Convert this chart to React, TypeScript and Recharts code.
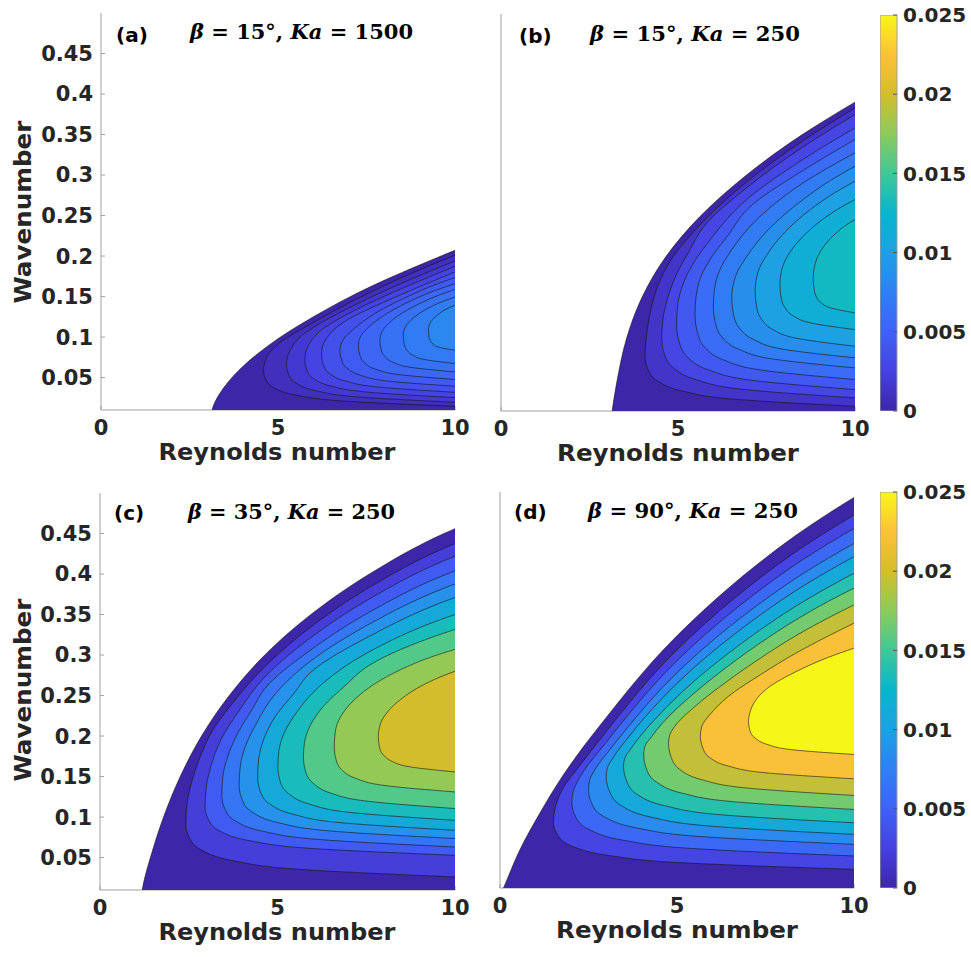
import React from 'react';
import { ScatterChart, Scatter, XAxis, YAxis, BarChart, Bar } from 'recharts';

// Growth-rate contours in the (Re, k) plane. Every line is a list of [Re, k]
// points running from its upper end on Re = 10, round the nose, down to its
// lower end on Re = 10. The first line of each panel is the neutral curve; it
// runs on down to k = 0 at the critical Reynolds number and closes below the axis.

const neutralA = [[10, 0.2071], [9, 0.189], [8, 0.17], [7, 0.149], [6, 0.125], [5, 0.098], [4.5, 0.082], [4, 0.0635], [3.6, 0.045], [3.35, 0.03], [3.2, 0.018], [3.13, 0.0085], [3.1, 0], [10, -0.002]];
const contoursA = [
  [[10, 0.2011], [9, 0.183], [8, 0.1635], [7, 0.142], [6, 0.118], [5, 0.091], [4.75, 0.08], [4.62, 0.068], [4.59, 0.059], [4.67, 0.0466], [4.91, 0.0368], [5.56, 0.0279], [6.75, 0.0213], [10, 0.0146]],
  [[10, 0.194], [9, 0.1759], [8, 0.1569], [7, 0.1359], [6, 0.1119], [5.62, 0.1], [5.38, 0.087], [5.27, 0.076], [5.24, 0.066], [5.31, 0.053], [5.53, 0.0427], [6.1, 0.0334], [7.14, 0.0265], [10, 0.0195]],
  [[10, 0.1874], [9, 0.1693], [8, 0.1503], [7, 0.1293], [6.15, 0.106], [5.9, 0.093], [5.79, 0.082], [5.76, 0.072], [5.82, 0.0589], [6.01, 0.0486], [6.52, 0.0393], [7.46, 0.0323], [10, 0.0253]],
  [[10, 0.1804], [9, 0.1623], [8, 0.1433], [7, 0.1223], [6.65, 0.112], [6.38, 0.099], [6.26, 0.089], [6.23, 0.078], [6.29, 0.0651], [6.46, 0.0549], [6.91, 0.0457], [7.74, 0.0387], [10, 0.0318]],
  [[10, 0.1735], [9.35, 0.1632], [8.54, 0.1475], [7.73, 0.1288], [7.14, 0.11], [6.85, 0.097], [6.75, 0.084], [6.8, 0.0715], [6.95, 0.0616], [7.34, 0.0527], [8.05, 0.046], [10, 0.0393]],
  [[10, 0.166], [9.45, 0.1577], [8.77, 0.1451], [8.09, 0.1295], [7.6, 0.1138], [7.35, 0.1021], [7.27, 0.09], [7.31, 0.0781], [7.43, 0.0688], [7.76, 0.0603], [8.36, 0.054], [10, 0.0476]],
  [[10, 0.1587], [9.58, 0.1523], [9.05, 0.1424], [8.52, 0.1299], [8.13, 0.117], [7.94, 0.1068], [7.88, 0.096], [7.91, 0.0851], [8.01, 0.0765], [8.26, 0.0687], [8.73, 0.0628], [10, 0.057]],
  [[10, 0.1495], [9.71, 0.145], [9.34, 0.1379], [8.98, 0.1287], [8.72, 0.1191], [8.58, 0.111], [8.54, 0.1022], [8.56, 0.0924], [8.63, 0.0847], [8.8, 0.0778], [9.12, 0.0725], [10, 0.0673]],
  [[10, 0.1393], [9.85, 0.1365], [9.66, 0.1322], [9.48, 0.1263], [9.34, 0.1201], [9.27, 0.1146], [9.25, 0.1084], [9.26, 0.1015], [9.3, 0.096], [9.39, 0.0911], [9.55, 0.0874], [10, 0.0837]],
];
const levelsA = [0, 0.0009, 0.0018, 0.0027, 0.0036, 0.0045, 0.0054, 0.0063, 0.0072, 0.0081];

const neutralB = [[10, 0.3912], [8.47, 0.35], [6.9, 0.3], [5.62, 0.25], [4.65, 0.2], [3.98, 0.15], [3.55, 0.1], [3.29, 0.05], [3.19, 0.025], [3.14, 0.01], [3.1, 0], [10, -0.002]];
const contoursB = [
  [[10, 0.3841], [8.52, 0.3433], [6.97, 0.2938], [5.72, 0.2441], [4.77, 0.1943], [4.45, 0.167], [4.2, 0.128], [4.1, 0.1], [4.07, 0.0779], [4.16, 0.0605], [4.43, 0.0468], [5.14, 0.0344], [6.44, 0.0251], [10, 0.0158]],
  [[10, 0.3759], [8.52, 0.3356], [6.97, 0.2866], [5.72, 0.2373], [5.3, 0.206], [4.95, 0.178], [4.7, 0.148], [4.57, 0.122], [4.54, 0.1005], [4.62, 0.0797], [4.87, 0.0633], [5.52, 0.0485], [6.72, 0.0373], [10, 0.0262]],
  [[10, 0.3595], [8.52, 0.3202], [6.97, 0.2721], [5.85, 0.218], [5.4, 0.19], [5.12, 0.164], [4.99, 0.14], [4.96, 0.117], [5.04, 0.0944], [5.26, 0.0767], [5.87, 0.0606], [6.98, 0.0485], [10, 0.0364]],
  [[10, 0.3451], [8.52, 0.3066], [6.97, 0.2595], [6.4, 0.226], [5.95, 0.2], [5.64, 0.175], [5.51, 0.151], [5.48, 0.1293], [5.55, 0.1068], [5.75, 0.089], [6.29, 0.0729], [7.29, 0.0609], [10, 0.0488]],
  [[10, 0.3286], [8.52, 0.2911], [7.0, 0.236], [6.5, 0.208], [6.17, 0.183], [6.03, 0.16], [6.0, 0.1396], [6.06, 0.1182], [6.24, 0.1014], [6.72, 0.0861], [7.6, 0.0747], [10, 0.0632]],
  [[10, 0.3121], [9.3, 0.2944], [8.43, 0.2675], [7.56, 0.2342], [6.94, 0.2006], [6.62, 0.1756], [6.52, 0.1498], [6.57, 0.129], [6.73, 0.1127], [7.15, 0.0979], [7.91, 0.0867], [10, 0.0756]],
  [[10, 0.2936], [9.44, 0.2798], [8.73, 0.2583], [8.03, 0.2312], [7.52, 0.2034], [7.26, 0.1815], [7.18, 0.158], [7.22, 0.1389], [7.35, 0.1239], [7.69, 0.1103], [8.31, 0.1001], [10, 0.0899]],
  [[10, 0.271], [9.58, 0.2609], [9.05, 0.2453], [8.52, 0.2249], [8.13, 0.2038], [7.94, 0.1858], [7.88, 0.1663], [7.91, 0.1507], [8.01, 0.1384], [8.26, 0.1272], [8.73, 0.1189], [10, 0.1105]],
  [[10, 0.2463], [9.76, 0.2398], [9.47, 0.2298], [9.17, 0.2161], [8.96, 0.2018], [8.86, 0.1889], [8.82, 0.1745], [8.84, 0.1623], [8.89, 0.1528], [9.03, 0.1441], [9.29, 0.1376], [10, 0.1311]],
];
const levelsB = [0, 0.0014, 0.0029, 0.0043, 0.0058, 0.0072, 0.0087, 0.0101, 0.0116, 0.013];

const neutralC = [[10, 0.456], [9.69, 0.45], [7.59, 0.4], [5.94, 0.35], [4.64, 0.3], [3.64, 0.25], [2.86, 0.2], [2.26, 0.15], [1.79, 0.1], [1.42, 0.05], [1.26, 0.025], [1.19, 0.01], [1.16, 0], [10, -0.002]];
const contoursC = [
  [[10, 0.4377], [9.69, 0.4319], [7.59, 0.3835], [5.94, 0.3347], [4.64, 0.2854], [3.64, 0.2354], [3.2, 0.209], [2.8, 0.172], [2.58, 0.143], [2.45, 0.116], [2.42, 0.092], [2.53, 0.0735], [2.87, 0.059], [3.78, 0.0459], [5.45, 0.036], [10, 0.0261]],
  [[10, 0.422], [9.69, 0.4164], [7.59, 0.3693], [5.94, 0.3215], [4.64, 0.2728], [3.9, 0.23], [3.4, 0.195], [3.12, 0.162], [2.99, 0.136], [2.96, 0.1125], [3.07, 0.0958], [3.38, 0.0826], [4.23, 0.0707], [5.78, 0.0618], [10, 0.0528]],
  [[10, 0.404], [9.69, 0.3986], [7.59, 0.353], [5.94, 0.3064], [4.64, 0.2584], [4.3, 0.234], [3.9, 0.205], [3.6, 0.175], [3.46, 0.15], [3.43, 0.127], [3.53, 0.1091], [3.82, 0.095], [4.61, 0.0823], [6.06, 0.0727], [10, 0.0631]],
  [[10, 0.3877], [9.69, 0.3825], [7.59, 0.3383], [5.94, 0.2928], [4.9, 0.25], [4.4, 0.215], [4.1, 0.188], [3.95, 0.162], [3.92, 0.1393], [4.01, 0.1209], [4.28, 0.1064], [5.01, 0.0932], [6.35, 0.0834], [10, 0.0735]],
  [[10, 0.371], [9.69, 0.366], [7.59, 0.3232], [5.94, 0.2788], [5.45, 0.252], [4.95, 0.225], [4.62, 0.197], [4.47, 0.172], [4.44, 0.1496], [4.52, 0.1311], [4.77, 0.1166], [5.44, 0.1035], [6.66, 0.0936], [10, 0.0837]],
  [[10, 0.35], [9.69, 0.3453], [7.59, 0.3042], [6.1, 0.258], [5.55, 0.23], [5.2, 0.205], [5.04, 0.182], [5.01, 0.162], [5.08, 0.1435], [5.31, 0.129], [5.91, 0.1158], [7.01, 0.1059], [10, 0.096]],
  [[10, 0.3316], [9.69, 0.3271], [7.59, 0.2875], [6.9, 0.262], [6.3, 0.237], [5.92, 0.213], [5.76, 0.192], [5.73, 0.1743], [5.79, 0.1564], [5.99, 0.1424], [6.5, 0.1296], [7.44, 0.1201], [10, 0.1105]],
  [[10, 0.307], [9.32, 0.2975], [8.47, 0.282], [7.59, 0.26], [7.1, 0.242], [6.78, 0.224], [6.63, 0.206], [6.6, 0.1866], [6.65, 0.171], [6.8, 0.1588], [7.21, 0.1477], [7.96, 0.1393], [10, 0.131]],
  [[10, 0.28], [9.57, 0.2727], [9.03, 0.2614], [8.49, 0.246], [8.1, 0.2298], [7.9, 0.2152], [7.84, 0.199], [7.87, 0.1869], [7.97, 0.1773], [8.23, 0.1687], [8.7, 0.1622], [10, 0.1557]],
];
const levelsC = [0, 0.0022, 0.0044, 0.0067, 0.0089, 0.0111, 0.0133, 0.0156, 0.0178, 0.02];

const neutralD = [[10, 0.4932], [9.28, 0.4735], [8.33, 0.4455], [7.39, 0.4146], [6.45, 0.3809], [5.51, 0.3438], [4.57, 0.3027], [3.63, 0.2553], [3.02, 0.222], [2.36, 0.185], [1.7, 0.144], [1.14, 0.1036], [0.57, 0.058], [0.1, 0.0101], [0, 0], [10, -0.002]];
const contoursD = [
  [[10, 0.4714], [9.28, 0.4523], [8.33, 0.4252], [7.39, 0.3951], [6.45, 0.3622], [5.51, 0.3259], [4.57, 0.2853], [3.63, 0.2379], [3.02, 0.2046], [2.36, 0.1676], [1.7, 0.1266], [1.55, 0.107], [1.51, 0.091], [1.64, 0.0748], [2.02, 0.0621], [3.04, 0.0505], [4.91, 0.0418], [10, 0.0331]],
  [[10, 0.4549], [9.28, 0.4363], [8.33, 0.4098], [7.39, 0.3803], [6.45, 0.348], [5.51, 0.3124], [4.57, 0.272], [3.63, 0.2247], [3.02, 0.1914], [2.36, 0.1544], [2.18, 0.141], [2.06, 0.128], [2.03, 0.1154], [2.15, 0.097], [2.51, 0.0825], [3.46, 0.0693], [5.22, 0.0595], [10, 0.0496]],
  [[10, 0.4364], [9.28, 0.4183], [8.33, 0.3925], [7.39, 0.3637], [6.45, 0.3322], [5.51, 0.2972], [4.57, 0.2573], [3.63, 0.2099], [3.02, 0.1766], [2.68, 0.1565], [2.53, 0.143], [2.5, 0.132], [2.61, 0.113], [2.95, 0.098], [3.85, 0.0844], [5.5, 0.0742], [10, 0.064]],
  [[10, 0.42], [9.28, 0.4024], [8.33, 0.3772], [7.39, 0.349], [6.45, 0.3181], [5.51, 0.2838], [4.57, 0.2441], [3.63, 0.1967], [3.2, 0.1715], [3.03, 0.158], [3.0, 0.148], [3.11, 0.1279], [3.42, 0.1121], [4.26, 0.0978], [5.8, 0.0871], [10, 0.0763]],
  [[10, 0.3994], [9.28, 0.3824], [8.33, 0.358], [7.39, 0.3306], [6.45, 0.3004], [5.51, 0.2669], [4.57, 0.2277], [3.7, 0.1825], [3.52, 0.17], [3.49, 0.1606], [3.59, 0.141], [3.88, 0.1256], [4.66, 0.1117], [6.09, 0.1012], [10, 0.0907]],
  [[10, 0.381], [9.28, 0.3648], [8.33, 0.341], [7.39, 0.3143], [6.45, 0.2848], [5.51, 0.252], [4.57, 0.2131], [4.28, 0.197], [4.09, 0.185], [4.06, 0.175], [4.15, 0.156], [4.42, 0.1411], [5.13, 0.1275], [6.44, 0.1174], [10, 0.1072]],
  [[10, 0.3603], [9.28, 0.3444], [8.33, 0.3214], [7.39, 0.2954], [6.45, 0.2668], [5.51, 0.2347], [5.0, 0.2135], [4.8, 0.2], [4.76, 0.1895], [4.84, 0.1713], [5.07, 0.157], [5.7, 0.144], [6.86, 0.1342], [10, 0.1245]],
  [[10, 0.3377], [9.28, 0.322], [8.33, 0.2999], [7.39, 0.2748], [6.45, 0.2471], [5.92, 0.224], [5.7, 0.21], [5.66, 0.198], [5.73, 0.1832], [5.92, 0.1715], [6.44, 0.161], [7.4, 0.153], [10, 0.1451]],
  [[10, 0.3068], [9.28, 0.2955], [8.33, 0.277], [7.58, 0.258], [7.16, 0.238], [7.06, 0.227], [7.02, 0.2162], [7.06, 0.2047], [7.2, 0.1957], [7.56, 0.1875], [8.21, 0.1813], [10, 0.1752]],
];
const levelsD = [0, 0.0028, 0.0056, 0.0083, 0.0111, 0.0139, 0.0167, 0.0194, 0.0222, 0.025];

const reTicks = [0, 5, 10];
const kTicks = [0.05, 0.1, 0.15, 0.2, 0.25, 0.3, 0.35, 0.4, 0.45];
const barTicks = [0, 0.005, 0.01, 0.015, 0.02, 0.025];
const CB_MAX = 0.025;

// parula, sampled at 11 equal steps
const PARULA = ['#3d26a8', '#4641e0', '#3f62f6', '#2f80f2', '#1fa0e3', '#08b5cc', '#40c797', '#8ccb5c', '#d3bd2c', '#fdc13a', '#f7f619'];

const toRgb = (h: string) => [1, 3, 5].map((i) => parseInt(h.slice(i, i + 2), 16));
function parula(v: number) {
  const t = Math.max(0, Math.min(1, v / CB_MAX)) * (PARULA.length - 1);
  const i = Math.min(Math.floor(t), PARULA.length - 2);
  const f = t - i;
  const a = toRgb(PARULA[i]);
  const b = toRgb(PARULA[i + 1]);
  const c = a.map((x, j) => Math.round(x + (b[j] - x) * f));
  return `rgb(${c[0]},${c[1]},${c[2]})`;
}

const FRAME = '#a0a0a0';
const INK = '#262626';
const tickFont = { fill: INK, fontSize: 21, fontWeight: 700, fontFamily: 'DejaVu Sans' };

const panels = [
  { id: 'a', box: { left: 101, top: 13, width: 354, height: 397 }, neutral: neutralA, contours: contoursA, levels: levelsA, showK: true },
  { id: 'b', box: { left: 501, top: 14, width: 354, height: 397 }, neutral: neutralB, contours: contoursB, levels: levelsB, showK: false },
  { id: 'c', box: { left: 100, top: 493, width: 355, height: 397 }, neutral: neutralC, contours: contoursC, levels: levelsC, showK: true },
  { id: 'd', box: { left: 500, top: 492, width: 354, height: 396 }, neutral: neutralD, contours: contoursD, levels: levelsD, showK: false },
];

const noMarker = () => <g />;

function ContourPanel({ panel }: { panel: any }) {
  const { box, neutral, contours, levels, showK } = panel;
  const layers = [neutral, ...contours];
  return (
    <div style={{ position: 'absolute', left: box.left - 60, top: box.top - 10 }}>
      <ScatterChart width={box.width + 80} height={box.height + 50} margin={{ top: 10, right: 20, bottom: 0, left: 0 }}>
        {layers.map((line: number[][], i: number) => (
          <Scatter
            key={i}
            xAxisId="re"
            yAxisId="k"
            data={line.map(([x, y]) => ({ x, y }))}
            shape={noMarker}
            line={{ fill: parula(levels[i]), stroke: '#141414', strokeWidth: 0.6 }}
            lineJointType="monotoneY"
            isAnimationActive={false}
          />
        ))}
        <XAxis xAxisId="re" dataKey="x" type="number" domain={[0, 10]} ticks={reTicks} interval={0} allowDataOverflow
          height={40} tickSize={-4} tickMargin={14} axisLine={{ stroke: FRAME }} tickLine={{ stroke: FRAME }} tick={tickFont} />
        <XAxis xAxisId="top" dataKey="x" type="number" orientation="top" domain={[0, 10]} ticks={reTicks} interval={0} allowDataOverflow
          height={0} tickSize={-4} axisLine={{ stroke: FRAME }} tickLine={{ stroke: FRAME }} tick={false} />
        <YAxis yAxisId="k" dataKey="y" type="number" domain={[0.01, 0.5]} ticks={kTicks} interval={0} allowDataOverflow
          width={60} tickSize={-4} tickMargin={12} axisLine={{ stroke: FRAME }} tickLine={{ stroke: FRAME }} tick={showK ? tickFont : false} />
        <YAxis yAxisId="right" dataKey="y" type="number" orientation="right" domain={[0.01, 0.5]} ticks={kTicks} interval={0} allowDataOverflow
          width={0} tickSize={-4} axisLine={{ stroke: FRAME }} tickLine={{ stroke: FRAME }} tick={false} />
      </ScatterChart>
    </div>
  );
}

function ColorBar({ id, left, top, height }: { id: string; left: number; top: number; height: number }) {
  return (
    <div style={{ position: 'absolute', left, top: top - 14 }}>
      <BarChart width={17 + 80} height={height + 28} data={[{ name: 'scale', v: CB_MAX }]}
        margin={{ top: 14, right: 0, bottom: 14, left: 0 }} barCategoryGap={0}>
        <defs>
          <linearGradient id={id} x1="0" y1="1" x2="0" y2="0">
            {PARULA.map((c, i) => (
              <stop key={i} offset={i / (PARULA.length - 1)} stopColor={c} />
            ))}
          </linearGradient>
        </defs>
        <Bar dataKey="v" fill={`url(#${id})`} stroke={FRAME} strokeWidth={1} isAnimationActive={false} />
        <XAxis dataKey="name" hide />
        <YAxis orientation="right" type="number" domain={[0, CB_MAX]} ticks={barTicks} interval={0} allowDataOverflow width={80}
          tickSize={-4} tickMargin={10} axisLine={false} tickLine={{ stroke: '#555' }}
          tick={{ ...tickFont, fontSize: 20 }} />
      </BarChart>
    </div>
  );
}

const titleFont = { fontFamily: 'DejaVu Sans', fontWeight: 700, fontSize: 20, fill: '#000' };
const mathFont = { fontFamily: 'DejaVu Serif', fontWeight: 700, fontSize: 20, fill: '#000' };
const labelFont = { fontFamily: 'DejaVu Sans', fontWeight: 700, fontSize: 23, fill: INK };

function Title({ x, y, tag, mx, my, width, beta, ka }: any) {
  return (
    <g>
      <text x={x} y={y} {...titleFont}>{tag}</text>
      <text x={mx} y={my} {...mathFont} textLength={width} lengthAdjust="spacingAndGlyphs">
        <tspan fontStyle="italic">β</tspan>
        {` = ${beta}°, `}
        <tspan fontStyle="italic">Ka</tspan>
        {` = ${ka}`}
      </text>
    </g>
  );
}

export default function App() {
  return (
    <div style={{ position: 'absolute', left: 0, top: 0, width: 971, height: 957, background: '#fff', overflow: 'hidden' }}>
      {panels.map((p) => (
        <ContourPanel key={p.id} panel={p} />
      ))}
      <ColorBar id="parula-top" left={880} top={15} height={396} />
      <ColorBar id="parula-bottom" left={880} top={492} height={396} />
      <svg width={971} height={957} style={{ position: 'absolute', left: 0, top: 0, pointerEvents: 'none' }}>
        <Title x={116} y={42} tag="(a)" mx={190} my={39} width={223} beta={15} ka={1500} />
        <Title x={519} y={43} tag="(b)" mx={590} my={41} width={210} beta={15} ka={250} />
        <Title x={114} y={520} tag="(c)" mx={188} my={519} width={207} beta={35} ka={250} />
        <Title x={514} y={519} tag="(d)" mx={588} my={518} width={210} beta={90} ka={250} />
        <text x={277} y={460} textAnchor="middle" textLength={237} lengthAdjust="spacingAndGlyphs" {...labelFont}>Reynolds number</text>
        <text x={678} y={461} textAnchor="middle" textLength={242} lengthAdjust="spacingAndGlyphs" {...labelFont}>Reynolds number</text>
        <text x={277} y={940} textAnchor="middle" textLength={237} lengthAdjust="spacingAndGlyphs" {...labelFont}>Reynolds number</text>
        <text x={677} y={938} textAnchor="middle" textLength={242} lengthAdjust="spacingAndGlyphs" {...labelFont}>Reynolds number</text>
        <text x={31} y={212} textAnchor="middle" transform="rotate(-90 31 212)" textLength={183} lengthAdjust="spacingAndGlyphs" {...labelFont}>Wavenumber</text>
        <text x={31} y={690} textAnchor="middle" transform="rotate(-90 31 690)" textLength={183} lengthAdjust="spacingAndGlyphs" {...labelFont}>Wavenumber</text>
      </svg>
    </div>
  );
}
